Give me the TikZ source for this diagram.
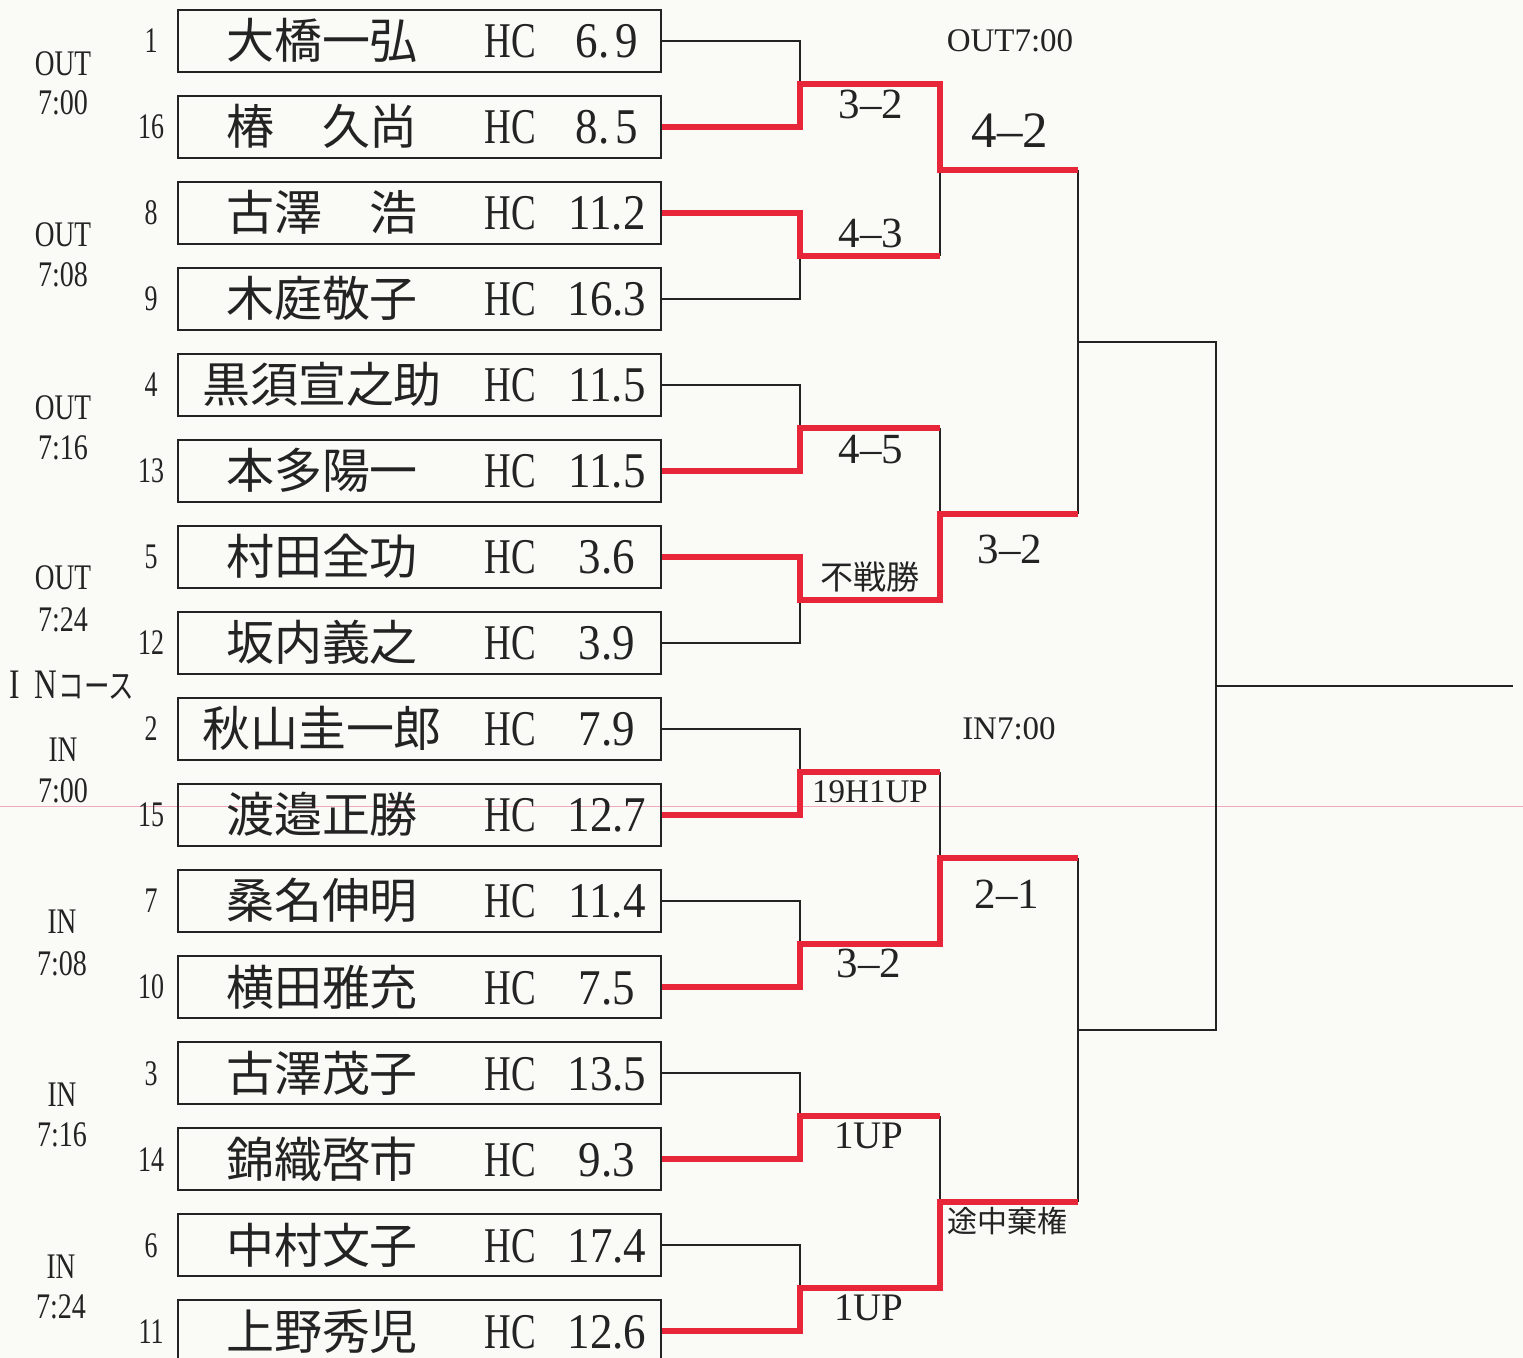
\documentclass[tikz,border=0pt]{standalone}
\usepackage{fontspec}
\setmainfont{Liberation Serif}
\newfontfamily\cjk{Noto Sans CJK JP}
\definecolor{winred}{RGB}{232,38,58}
\definecolor{paper}{RGB}{250,250,247}
\definecolor{ink}{RGB}{35,35,35}
\definecolor{scanpink}{RGB}{240,170,190}
\newcommand\squeeze[2]{\scalebox{#1}[1]{#2}}
\begin{document}
\begin{tikzpicture}[x=0.5pt,y=-0.5pt,
  box/.style={draw=ink, line width=1.3pt, minimum width=241.5pt, minimum height=31pt, inner sep=0pt},
  lose/.style={draw=ink, line width=1.2pt},
  win/.style={draw=winred, line width=3.4pt},
  seedlbl/.style={anchor=base, inner sep=0pt, text=ink, font=\fontsize{18}{18}\selectfont},
  namelbl/.style={anchor=base, inner sep=0pt, text=ink, font=\fontsize{24}{24}\selectfont\cjk},
  hclbl/.style={anchor=base, inner sep=0pt, text=ink, font=\fontsize{25}{25}\selectfont},
  timelbl/.style={anchor=base, inner sep=0pt, text=ink, font=\fontsize{18}{18}\selectfont},
  score/.style={anchor=base, inner sep=0pt, text=ink, font=\fontsize{21.5}{22}\selectfont},
  bigscore/.style={anchor=base, inner sep=0pt, text=ink, font=\fontsize{25.5}{26}\selectfont},
  small/.style={anchor=base, inner sep=0pt, text=ink, font=\fontsize{16.5}{17}\selectfont},
  cjksmall/.style={anchor=base, inner sep=0pt, text=ink, font=\cjk}
]
\fill[paper] (0,0) rectangle (1523,1358);
\useasboundingbox (0,0) rectangle (1523,1358);
\clip (0,0) rectangle (1523,1358);

% faint scan line
\draw[scanpink, line width=0.5pt] (0,807) -- (1523,807);

% player rows
\foreach \r/\s/\nm/\hc in {
  0/1/大橋一弘/{6.\hspace{3.5pt}9},
  1/16/椿　久尚/{8.\hspace{3.5pt}5},
  2/8/古澤　浩/11.2,
  3/9/木庭敬子/16.3,
  4/4/黒須宣之助/11.5,
  5/13/本多陽一/11.5,
  6/5/村田全功/3.6,
  7/12/坂内義之/3.9,
  8/2/秋山圭一郎/7.9,
  9/15/渡邉正勝/12.7,
  10/7/桑名伸明/11.4,
  11/10/横田雅充/7.5,
  12/3/古澤茂子/13.5,
  13/14/錦織啓市/9.3,
  14/6/中村文子/17.4,
  15/11/上野秀児/12.6}{
  \pgfmathsetmacro\cy{41+86*\r}
  \node[box] (b\s) at (419.5,\cy) {};
  \node[seedlbl] (s\s) at (151,\cy+12) {\squeeze{0.72}{\s}};
  \node[namelbl] (n\s) at (322,\cy+18) {\nm};
  \node[hclbl] (h\s) at (510,\cy+17) {\squeeze{0.74}{HC}};
  \node[hclbl] (v\s) at (607,\cy+17) {\squeeze{0.9}{\hc}};
}

% start-time labels
\node[timelbl] (t1a) at (63,76) {\squeeze{0.76}{OUT}};
\node[timelbl] (t1b) at (63,115) {\squeeze{0.78}{7:00}};
\node[timelbl] (t2a) at (63,247) {\squeeze{0.76}{OUT}};
\node[timelbl] (t2b) at (63,287) {\squeeze{0.78}{7:08}};
\node[timelbl] (t3a) at (63,420) {\squeeze{0.76}{OUT}};
\node[timelbl] (t3b) at (63,460) {\squeeze{0.78}{7:16}};
\node[timelbl] (t4a) at (63,590) {\squeeze{0.76}{OUT}};
\node[timelbl] (t4b) at (63,632) {\squeeze{0.78}{7:24}};
\node[timelbl] (incourse) at (72,699) {\squeeze{0.75}{\fontsize{21}{21}\selectfont I\hspace{0.45em}N\hspace{0.05em}{\cjk\fontsize{17}{17}\selectfont コース}}};
\node[timelbl] (t5a) at (63,762) {\squeeze{0.76}{IN}};
\node[timelbl] (t5b) at (63,803) {\squeeze{0.78}{7:00}};
\node[timelbl] (t6a) at (62,934) {\squeeze{0.76}{IN}};
\node[timelbl] (t6b) at (62,975) {\squeeze{0.78}{7:08}};
\node[timelbl] (t7a) at (62,1106) {\squeeze{0.76}{IN}};
\node[timelbl] (t7b) at (62,1146) {\squeeze{0.78}{7:16}};
\node[timelbl] (t8a) at (61,1278) {\squeeze{0.76}{IN}};
\node[timelbl] (t8b) at (61,1318) {\squeeze{0.78}{7:24}};

% junction coordinates
\coordinate (j1) at (800,84);
\coordinate (j2) at (800,256);
\coordinate (j3) at (800,428);
\coordinate (j4) at (800,600);
\coordinate (j5) at (800,772);
\coordinate (j6) at (800,944);
\coordinate (j7) at (800,1116);
\coordinate (j8) at (800,1288);
\coordinate (k1) at (940,170);
\coordinate (k2) at (940,514);
\coordinate (k3) at (940,858);
\coordinate (k4) at (940,1202);
\coordinate (l1) at (1078,342);
\coordinate (l2) at (1078,1030);
\coordinate (f) at (1216,686);
\coordinate (fend) at (1513,686);

% losing (black) lines
\draw[lose] (b1.east) -| (j1);
\draw[lose] (b9.east) -| (j2);
\draw[lose] (j2 -| k1) -- (k1);
\draw[lose] (b4.east) -| (j3);
\draw[lose] (b12.east) -| (j4);
\draw[lose] (j3 -| k2) -- (k2);
\draw[lose] (k1 -| l1) -- (k2 -| l1);
\draw[lose] (b2.east) -| (j5);
\draw[lose] (j5 -| k3) -- (k3);
\draw[lose] (b7.east) -| (j6);
\draw[lose] (b3.east) -| (j7);
\draw[lose] (j7 -| k4) -- (k4);
\draw[lose] (b6.east) -| (j8);
\draw[lose] (k3 -| l2) -- (k4 -| l2);
\draw[lose] (l1) -| (f) -- (f |- l2) -- (l2);
\draw[lose] (f) -- (fend);

% winning (red) lines
\draw[win] (b16.east) -| (j1) -| (k1) -- (k1 -| l1);
\draw[win] (b8.east) -| (j2) -- (j2 -| k1);
\draw[win] (b13.east) -| (j3) -- (j3 -| k2);
\draw[win] (b5.east) -| (j4) -| (k2) -- (k2 -| l1);
\draw[win] (b15.east) -| (j5) -- (j5 -| k3);
\draw[win] (b10.east) -| (j6) -| (k3) -- (k3 -| l2);
\draw[win] (b14.east) -| (j7) -- (j7 -| k4);
\draw[win] (b11.east) -| (j8) -| (k4) -- (k4 -| l2);

% results
\node[small] (out700) at (1010,52) {OUT7:00};
\node[score] (r1) at (871,119) {3--2};
\node[score] (r2) at (871,248) {4--3};
\node[bigscore] (q1) at (1010,148) {4--2};
\node[score] (r3) at (871,464) {4--5};
\node[cjksmall, font=\cjk\fontsize{16.5}{17}\selectfont] (r4) at (870,590) {不戦勝};
\node[score] (q2) at (1010,564) {3--2};
\node[small] (in700) at (1009,740) {IN7:00};
\node[small] (r5) at (870,803) {19H1UP};
\node[score] (q3) at (1007,908) {2--1};
\node[score] (r6) at (869,978) {3--2};
\node[score, font=\fontsize{19.5}{20}\selectfont] (r7) at (869,1148) {1UP};
\node[cjksmall, font=\cjk\fontsize{15}{15}\selectfont] (q4) at (1007,1232) {途中棄権};
\node[score, font=\fontsize{19.5}{20}\selectfont] (r8) at (869,1320) {1UP};
\end{tikzpicture}
\end{document}
